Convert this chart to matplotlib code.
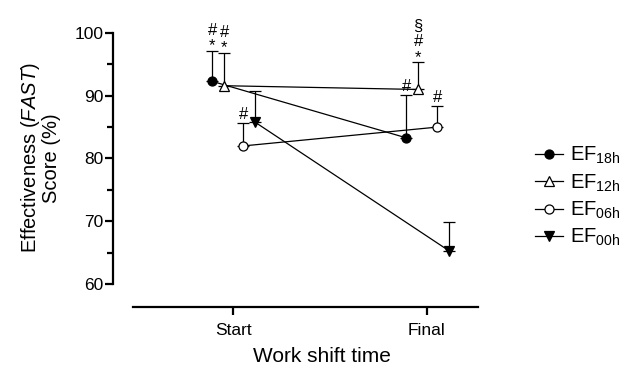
import matplotlib
matplotlib.use("Agg")
import matplotlib.pyplot as plt
from matplotlib.ticker import MultipleLocator
from matplotlib.lines import Line2D

plt.rcParams['font.family'] = ['Liberation Sans', 'DejaVu Sans']
plt.rcParams['mathtext.fontset'] = 'custom'
plt.rcParams['mathtext.rm'] = 'Liberation Sans'
plt.rcParams['mathtext.it'] = 'Liberation Sans:italic'
plt.rcParams['mathtext.bf'] = 'Liberation Sans:bold'

# ---- data ----
categories = ["Start", "Final"]
series_names = ["EF$_{\\mathrm{18h}}$", "EF$_{\\mathrm{12h}}$", "EF$_{\\mathrm{06h}}$", "EF$_{\\mathrm{00h}}$"]
ef18 = [92.3, 83.3]
ef12 = [91.6, 91.0]
ef06 = [82.0, 85.0]
ef00 = [85.8, 65.3]
err18 = [4.8, 6.8]
err12 = [5.2, 4.3]
err06 = [3.6, 3.4]
err00 = [5.0, 4.5]
# significance marks per series per time point (top to bottom)
marks18 = ["#\n*", "#"]
marks12 = ["#\n*", "§\n#\n*"]
marks06 = ["#", "#"]
marks00 = ["", ""]

values = [ef18, ef12, ef06, ef00]
errors = [err18, err12, err06, err00]
marks = [marks18, marks12, marks06, marks00]
offsets = [-0.108, -0.046, 0.052, 0.113]
styles = [dict(marker='o', mfc='black'),
          dict(marker='^', mfc='white'),
          dict(marker='o', mfc='white'),
          dict(marker='v', mfc='black')]

W, H = 634, 370
fig = plt.figure(figsize=(W / 100, H / 100), dpi=100)
ax = fig.add_axes([113 / W, (H - 307) / H, (478 - 113) / W, (307 - 33) / H])

xs = [0, 1]
handles = []
for vals, errs, mk, off, st, name in zip(values, errors, marks, offsets, styles, series_names):
    x = [xi + off for xi in xs]
    ax.errorbar(x, vals, yerr=[[0, 0], errs], color='black', lw=0.9,
                elinewidth=0.9, capsize=4, capthick=0.9,
                marker=st['marker'], mfc=st['mfc'], mec='black', mew=0.9,
                markersize=6.5, clip_on=False, zorder=3)
    handles.append(Line2D([], [], color='black', lw=0.9, marker=st['marker'],
                          mfc=st['mfc'], mec='black', mew=0.9, markersize=6.5, label=name))
    for xi, v, e, m in zip(x, vals, errs, mk):
        if not m:
            continue
        dy = -1.6 if m.endswith('*') else 0.8
        ax.annotate(m, (xi, v + e), xytext=(0, dy), textcoords='offset points',
                    ha='center', va='bottom', fontsize=12, linespacing=1.05)

ax.set_xlim(-0.619, 1.263)
ax.set_ylim(56.33, 100)
ax.spines['top'].set_visible(False)
ax.spines['right'].set_visible(False)
ax.spines['left'].set_bounds(60, 100)
ax.spines['bottom'].set_bounds(-0.515, 1.263)
for sp in ['left', 'bottom']:
    ax.spines[sp].set_linewidth(1.6)
ax.set_yticks([60, 70, 80, 90, 100])
ax.yaxis.set_minor_locator(MultipleLocator(5))
ax.set_xticks(xs)
ax.set_xticklabels(categories)
ax.tick_params(axis='both', which='major', length=5.5, width=1.6, labelsize=12.5, pad=1.5)
ax.tick_params(axis='y', which='minor', length=4.5, width=1.6)
ax.tick_params(axis='x', pad=6)

fig.text(322 / W, 1 - 357 / H, "Work shift time", fontsize=15, ha='center', va='center')
fig.text(40 / W, 1 - 158 / H, "Effectiveness ($\\it{FAST}$)\nScore (%)", fontsize=14.5,
         ha='center', va='center', rotation=90, linespacing=1.0)

leg = fig.legend(handles=handles, loc='upper left', bbox_to_anchor=(535 / W, 1 - 145 / H),
                 frameon=False, fontsize=14.5, handlelength=1.4, handletextpad=0.35,
                 labelspacing=0.3, borderpad=0, borderaxespad=0)

fig.savefig("out.png", dpi=100)
